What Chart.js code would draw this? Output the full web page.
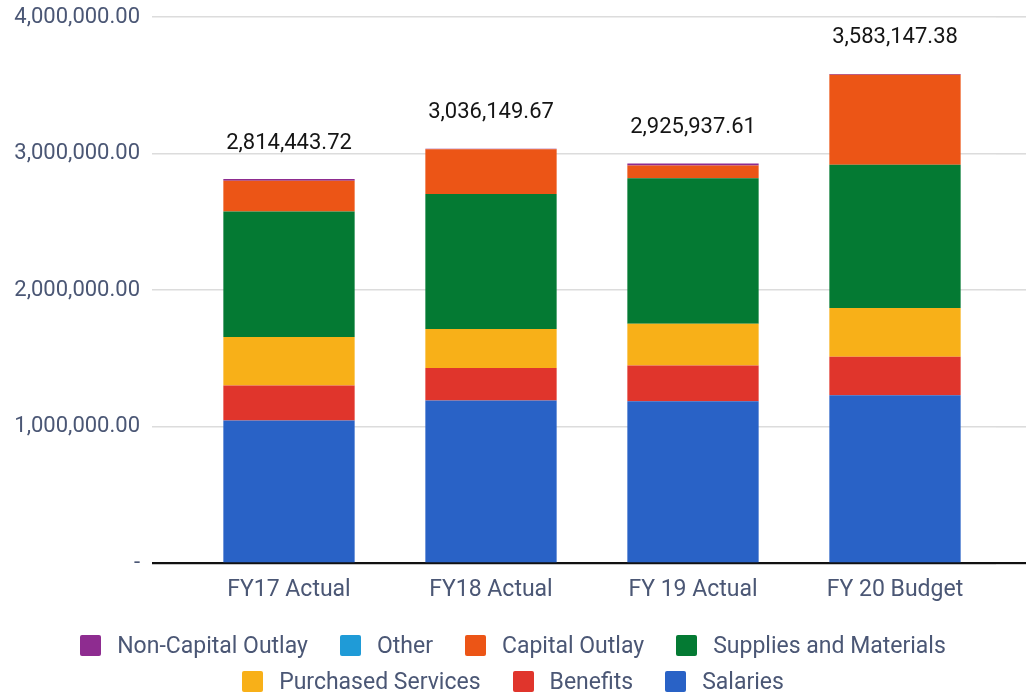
<!DOCTYPE html>
<html>
<head>
<meta charset="utf-8">
<script src="https://cdn.jsdelivr.net/npm/chart.js@4/dist/chart.umd.min.js"></script>
<style>
  html, body { margin: 0; padding: 0; background: #fff; }
  #wrap { width: 1026px; height: 696px; position: relative; }
  #legend {
    position: absolute; left: 0; top: 627px; width: 1026px;
    display: flex; flex-wrap: wrap; justify-content: center;
    font: 23px Roboto; color: #4b5775;
  }
  .item { display: flex; align-items: center; height: 36px; margin: 0 16px; }
  .box { width: 21px; height: 21px; margin-right: 16px; border-radius: 2px; }
</style>
</head>
<body>
<div id="wrap"><canvas id="budgetChart"></canvas><div id="legend"></div></div>
<script>
// Chart data
const years = ['FY17 Actual', 'FY18 Actual', 'FY 19 Actual', 'FY 20 Budget'];
const salaries = [1046000, 1192000, 1187000, 1231000];
const benefits = [256000, 239000, 261000, 281000];
const purchasedServices = [356000, 285000, 307000, 358000];
const supplies = [918000, 989000, 1065000, 1048000];
const capitalOutlay = [226000, 326000, 92000, 660000];
const other = [0, 0, 0, 0];
const nonCapitalOutlay = [12000, 5000, 15000, 5000];
const totalLabels = ['2,814,443.72', '3,036,149.67', '2,925,937.61', '3,583,147.38'];
const yTicks = [0, 1000000, 2000000, 3000000, 4000000];

const textColor = '#4b5775';
Chart.defaults.font.family = 'Roboto';

// Draws the total above every stack
const totalsPlugin = {
    id: 'totals',
    afterDatasetsDraw(chart) {
        const ctx = chart.ctx;
        const yScale = chart.scales.y;
        const xScale = chart.scales.x;
        ctx.save();
        ctx.font = '22px Roboto';
        ctx.fillStyle = '#151515';
        ctx.textAlign = 'center';
        ctx.textBaseline = 'middle';
        years.forEach((yr, i) => {
            let sum = 0;
            chart.data.datasets.forEach(ds => { sum += ds.data[i]; });
            ctx.fillText(totalLabels[i], xScale.getPixelForValue(i), yScale.getPixelForValue(sum) - 36);
        });
        ctx.restore();
    }
};

const gridColor = ctx => ctx.tick && ctx.tick.value === 0 ? '#111' : '#dcdcdc';
const gridWidth = ctx => ctx.tick && ctx.tick.value === 0 ? 2.2 : 1.6;

const budgetCtx = document.getElementById('budgetChart').getContext('2d');
const chart = new Chart(budgetCtx, {
    type: 'bar',
    data: {
        labels: years,
        datasets: [
            { label: 'Salaries', data: salaries, backgroundColor: '#2962c6' },
            { label: 'Benefits', data: benefits, backgroundColor: '#e0352c' },
            { label: 'Purchased Services', data: purchasedServices, backgroundColor: '#f8b018' },
            { label: 'Supplies and Materials', data: supplies, backgroundColor: '#047a33' },
            { label: 'Capital Outlay', data: capitalOutlay, backgroundColor: '#ec5516' },
            { label: 'Other', data: other, backgroundColor: '#1f9bd7' },
            { label: 'Non-Capital Outlay', data: nonCapitalOutlay, backgroundColor: '#8e2c90' }
        ]
    },
    options: {
        responsive: true,
        maintainAspectRatio: false,
        animation: false,
        categoryPercentage: 1,
        barPercentage: 0.65,
        borderWidth: 0,
        layout: {
            padding: { top: 0, right: 0, left: 0, bottom: 87 }
        },
        plugins: {
            tooltip: { enabled: false },
            legend: { display: false }
        },
        scales: {
            x: {
                stacked: true,
                grid: { display: false },
                border: { display: false },
                ticks: { color: textColor, padding: 5, font: { size: 23 } }
            },
            y: {
                stacked: true,
                min: 0,
                max: 4000000,
                afterFit: scale => { scale.width = 188; scale.paddingTop = 17; },
                afterBuildTicks: scale => { scale.ticks = yTicks.map(v => ({ value: v })); },
                border: { display: false },
                grid: { color: gridColor, lineWidth: gridWidth, tickLength: 36 },
                ticks: {
                    color: textColor,
                    padding: 12,
                    font: { size: 22 },
                    callback: v => v === 0 ? '-' : v.toLocaleString('en-US', { minimumFractionDigits: 2 })
                }
            },
            yRight: {
                position: 'right',
                min: 0,
                max: 4000000,
                afterBuildTicks: scale => { scale.ticks = yTicks.map(v => ({ value: v })); },
                border: { display: false },
                grid: { color: gridColor, lineWidth: gridWidth, tickLength: 30, drawOnChartArea: false },
                ticks: { display: false }
            }
        }
    },
    plugins: [totalsPlugin]
});

// HTML legend, top of the stack first
const legendEl = document.getElementById('legend');
chart.data.datasets.slice().reverse().forEach(ds => {
    const item = document.createElement('div');
    item.className = 'item';
    const box = document.createElement('span');
    box.className = 'box';
    box.style.background = ds.backgroundColor;
    const label = document.createElement('span');
    label.textContent = ds.label;
    item.appendChild(box);
    item.appendChild(label);
    legendEl.appendChild(item);
});
</script>
</body>
</html>
